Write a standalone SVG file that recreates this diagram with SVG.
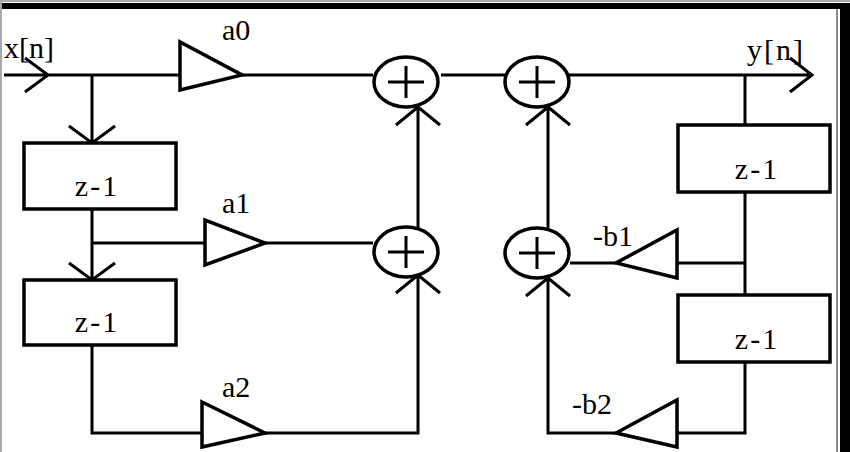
<svg xmlns="http://www.w3.org/2000/svg" width="850" height="452" viewBox="0 0 850 452">
<style>
.s{fill:none;stroke:#000;stroke-width:3}
.b{fill:#fff;stroke:#000;stroke-width:3.5}
.t{font-family:'Liberation Serif','DejaVu Serif','Times New Roman',serif;font-size:30px;fill:#000}
</style>
<rect width="850" height="452" fill="#fff"/>
<g id="frame">
<line x1="0" y1="1" x2="850" y2="1" stroke="#aaa" stroke-width="2"/>
<rect x="0" y="3" width="850" height="6" fill="#000"/>
<line x1="1" y1="0" x2="1" y2="452" stroke="#aaa" stroke-width="2"/>
<line x1="837" y1="9" x2="837" y2="452" stroke="#888" stroke-width="2"/>
<rect x="840" y="3" width="10" height="449" fill="#000"/>
</g>
<g id="connectors" class="s">
<path d="M4 75H180M25 58L48 75L25 92"/>
<path d="M92 75V143M69 126L92 143L115 126"/>
<path d="M242 75H373M441 75H505M569 75H812M790 58L812 75L790 92"/>
<path d="M92 209V280M69 263L92 280L115 263"/>
<path d="M92 243H205M265 243H373"/>
<path d="M92 345V433H202M265 433H418V275M396 293L418 275L440 293"/>
<path d="M418 228V107M396 125L418 107L440 125"/>
<path d="M548 228V107M526 125L548 107L570 125"/>
<path d="M745 75V125M745 192V295M745 263H677M616 263H570"/>
<path d="M745 362V433H677M616 433H548V278M526 296L548 278L570 296"/>
</g>
<g id="x"><text class="t" x="4" y="58">x[n]</text></g>
<g id="y"><text class="t" x="747" y="60" letter-spacing="2">y[n]</text></g>
<g id="z1"><rect class="b" x="24" y="143" width="152" height="66"/><text class="t" x="97" y="196" text-anchor="middle" letter-spacing="2">z-1</text></g>
<g id="z2"><rect class="b" x="24" y="280" width="152" height="65"/><text class="t" x="97" y="332" text-anchor="middle" letter-spacing="2">z-1</text></g>
<g id="z3"><rect class="b" x="678" y="125" width="152" height="67"/><text class="t" x="757" y="179" text-anchor="middle" letter-spacing="2">z-1</text></g>
<g id="z4"><rect class="b" x="678" y="295" width="152" height="67"/><text class="t" x="757" y="349" text-anchor="middle" letter-spacing="2">z-1</text></g>
<g id="a0"><path class="b" d="M180 42V90L242 75Z"/><text class="t" x="222" y="40">a0</text></g>
<g id="a1"><path class="b" d="M205 220V265L265 243Z"/><text class="t" x="222" y="213">a1</text></g>
<g id="a2"><path class="b" d="M202 402V447L265 433Z"/><text class="t" x="222" y="397">a2</text></g>
<g id="b1"><path class="b" d="M677 230V278L616 263Z"/><text class="t" x="593" y="246">-b1</text></g>
<g id="b2"><path class="b" d="M677 400V447L616 433Z"/><text class="t" x="572" y="414">-b2</text></g>
<g id="add1"><ellipse class="b" cx="406" cy="82" rx="32" ry="25"/><path class="s" d="M388 82H424M406 66V98"/></g>
<g id="add2"><ellipse class="b" cx="537" cy="82" rx="32" ry="25"/><path class="s" d="M519 82H555M537 66V98"/></g>
<g id="add3"><ellipse class="b" cx="406" cy="252" rx="32" ry="25"/><path class="s" d="M388 252H424M406 236V268"/></g>
<g id="add4"><ellipse class="b" cx="537" cy="253" rx="32" ry="25"/><path class="s" d="M519 253H555M537 237V269"/></g>
</svg>
